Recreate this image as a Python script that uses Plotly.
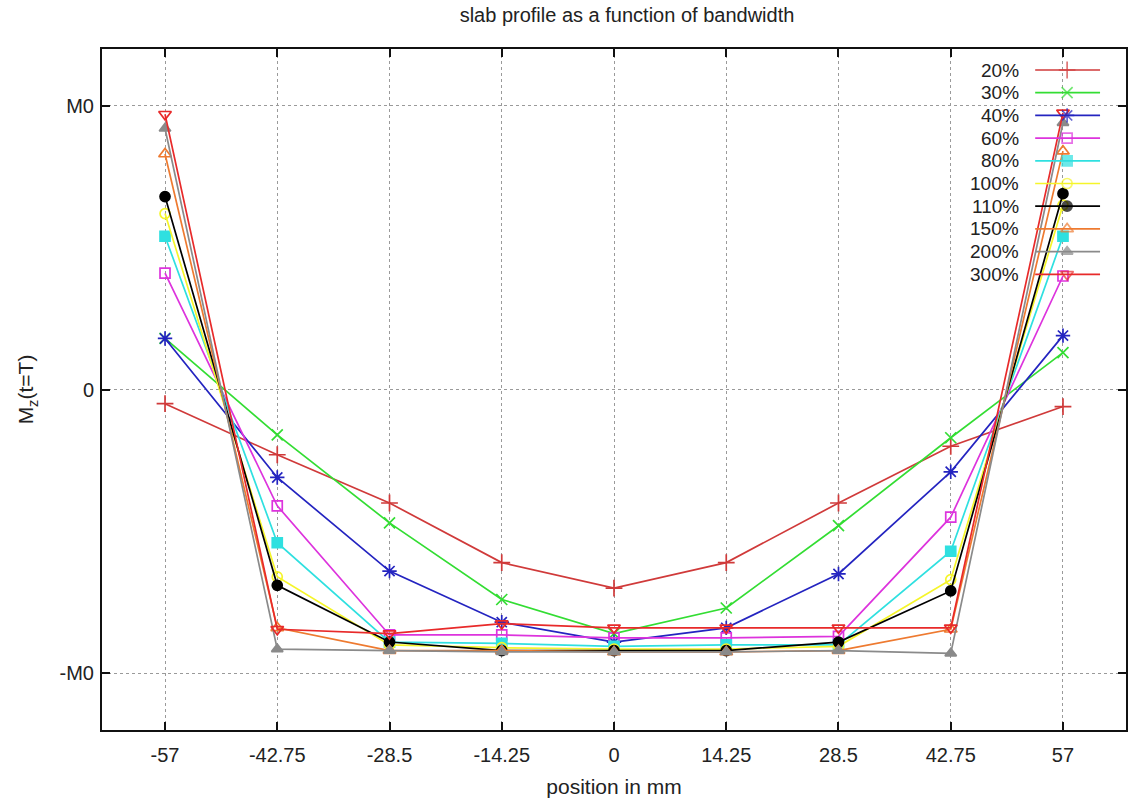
import plotly.graph_objects as go

# Slab profile: longitudinal magnetisation M_z(t=T) across the slab for several RF bandwidths
positions = [-57, -42.75, -28.5, -14.25, 0, 14.25, 28.5, 42.75, 57]
tick_labels_x = ["-57", "-42.75", "-28.5", "-14.25", "0", "14.25", "28.5", "42.75", "57"]
tick_vals_y = [-1, 0, 1]
tick_labels_y = ["-M0", "0", "M0"]

series_names = ["20%", "30%", "40%", "60%", "80%", "100%", "110%", "150%", "200%", "300%"]

bw_20 = [-0.05, -0.23, -0.40, -0.61, -0.70, -0.61, -0.40, -0.20, -0.06]
bw_30 = [0.18, -0.16, -0.47, -0.74, -0.86, -0.77, -0.48, -0.17, 0.13]
bw_40 = [0.18, -0.31, -0.64, -0.82, -0.89, -0.84, -0.65, -0.29, 0.19]
bw_60 = [0.41, -0.41, -0.865, -0.865, -0.875, -0.875, -0.87, -0.45, 0.40]
bw_80 = [0.54, -0.54, -0.89, -0.895, -0.905, -0.90, -0.90, -0.57, 0.54]
bw_100 = [0.62, -0.66, -0.90, -0.91, -0.915, -0.915, -0.905, -0.67, 0.65]
bw_110 = [0.68, -0.69, -0.89, -0.92, -0.92, -0.92, -0.89, -0.71, 0.69]
bw_150 = [0.83, -0.84, -0.92, -0.92, -0.925, -0.925, -0.92, -0.845, 0.84]
bw_200 = [0.92, -0.915, -0.92, -0.925, -0.925, -0.925, -0.92, -0.93, 0.94]
bw_300 = [0.97, -0.845, -0.86, -0.825, -0.84, -0.84, -0.84, -0.84, 0.975]

series_values = [bw_20, bw_30, bw_40, bw_60, bw_80, bw_100, bw_110, bw_150, bw_200, bw_300]

colors = ["#d03a3a", "#33dd33", "#2424c0", "#dd33dd", "#2fe0e0",
          "#f5f52a", "#000000", "#ee7a30", "#8a8a8a", "#e82a2a"]
symbols = ["cross-thin-open", "x-thin-open", "asterisk-open", "square-open", "square",
           "circle-open", "circle", "triangle-up-open", "triangle-up", "triangle-down-open"]
sizes = [12, 11, 12, 10, 10, 10, 10, 11, 10, 11]

FONT = "Liberation Sans, Arial, sans-serif"
W, H = 1131, 805
L, R, T, B = 102, 1128, 49, 730

fig = go.Figure()

for name, vals, col, sym, sz in zip(series_names, series_values, colors, symbols, sizes):
    fig.add_trace(go.Scatter(
        x=positions, y=vals, name=name, mode="lines+markers",
        line=dict(color=col, width=1.7),
        marker=dict(symbol=sym, size=sz, color=col, line=dict(color=col, width=1.7)),
        showlegend=False,
    ))

# Key in the upper right: label on the left, line sample with symbol on the right
row0, row_step = 70, 22.7
for i, (name, col, sym, sz) in enumerate(zip(series_names, colors, symbols, sizes)):
    ry = row0 + i * row_step
    fig.add_trace(go.Scatter(
        x=[1037, 1069, 1102], y=[ry, ry, ry], mode="lines+markers",
        line=dict(color=col, width=1.7),
        marker=dict(symbol=sym, size=[0, sz, 0], color=col, line=dict(color=col, width=1.7)),
        xaxis="x2", yaxis="y2", showlegend=False, hoverinfo="skip",
    ))
    fig.add_annotation(
        x=1023, y=ry, xref="x2", yref="y2", text=name, showarrow=False,
        xanchor="right", yanchor="middle", font=dict(family=FONT, size=19, color="#222"),
    )

axis_common = dict(
    showline=True, linecolor="#111", linewidth=2, mirror="ticks",
    ticks="inside", ticklen=8, tickwidth=2, tickcolor="#111",
    showgrid=True, gridcolor="#9a9a9a", gridwidth=1, griddash="dot",
    zeroline=False, tickfont=dict(family=FONT, size=20, color="#222"),
)

fig.update_layout(
    width=W, height=H,
    margin=dict(l=L, r=W - R, t=T, b=H - B),
    paper_bgcolor="white", plot_bgcolor="white",
    title=dict(text="slab profile as a function of bandwidth",
               x=627 / W, xref="container", xanchor="center",
               y=1 - 15 / H, yref="container", yanchor="middle",
               font=dict(family=FONT, size=20, color="#222")),
    xaxis=dict(range=[-65, 65], tickvals=positions, ticktext=tick_labels_x,
               ticklabelstandoff=6,
               title=dict(text="position in mm", standoff=14,
                          font=dict(family=FONT, size=21, color="#222")),
               **axis_common),
    yaxis=dict(range=[-1.2, 1.2], tickvals=tick_vals_y, ticktext=tick_labels_y,
               ticklabelstandoff=2,
               title=dict(text="M<sub>z</sub>(t=T)", standoff=20,
                          font=dict(family=FONT, size=21, color="#222")),
               **axis_common),
    xaxis2=dict(overlaying="x", range=[L, R], visible=False, domain=[0, 1]),
    yaxis2=dict(overlaying="y", range=[B, T], visible=False, domain=[0, 1]),
)

fig.write_html("out.html")
